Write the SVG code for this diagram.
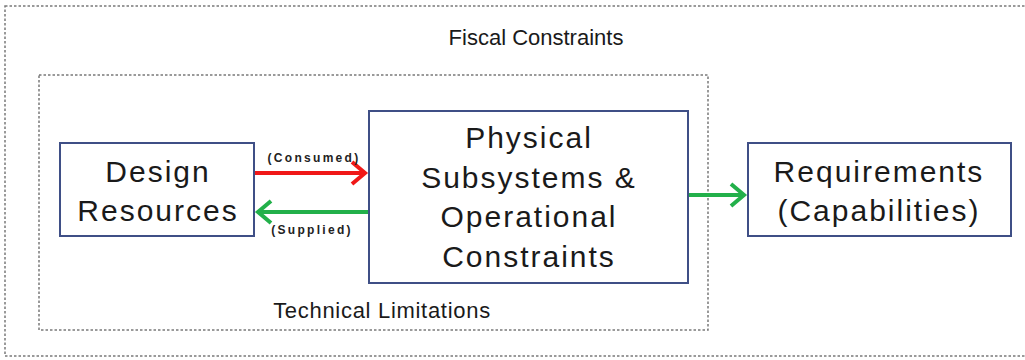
<svg xmlns="http://www.w3.org/2000/svg" width="1025" height="360" viewBox="0 0 1025 360">
<style>
.frame{fill:none;stroke:#7a7a7a;stroke-width:1.5;stroke-dasharray:2.5 2}
.box{fill:#fff;stroke:#3f4f86;stroke-width:2}
.big{font-family:"Liberation Sans",Arial,sans-serif;font-size:30px;letter-spacing:2px;fill:#1a1a1a;text-anchor:middle}
.lbl{font-family:"Liberation Sans",Arial,sans-serif;font-size:22px;fill:#1a1a1a;text-anchor:middle}
.sm{font-family:"Liberation Sans",Arial,sans-serif;font-size:12px;font-weight:bold;letter-spacing:2.3px;fill:#222;text-anchor:middle}
.red{stroke:#f01818;stroke-width:4;fill:none}
.grn{stroke:#22b04a;stroke-width:4;fill:none}
</style>
<rect width="1025" height="360" fill="#fff"/>
<g id="fiscal">
<rect class="frame" x="5" y="6" width="1030" height="350"/>
<text class="lbl" x="536" y="45">Fiscal Constraints</text>
</g>
<g id="technical">
<rect class="frame" x="39" y="75" width="669" height="255"/>
<text class="lbl" x="382" y="318" style="letter-spacing:0.7px">Technical Limitations</text>
</g>
<g id="design">
<rect class="box" x="60" y="143" width="194" height="93"/>
<text class="big" x="158" y="182">Design</text>
<text class="big" x="158" y="221">Resources</text>
</g>
<g id="physical">
<rect class="box" x="369" y="111" width="319" height="172"/>
<text class="big" x="529" y="148">Physical</text>
<text class="big" x="529" y="188">Subsystems &amp;</text>
<text class="big" x="529" y="227">Operational</text>
<text class="big" x="529" y="267">Constraints</text>
</g>
<g id="requirements">
<rect class="box" x="748" y="143" width="263" height="93"/>
<text class="big" x="879" y="182">Requirements</text>
<text class="big" x="879" y="221">(Capabilities)</text>
</g>
<g id="connectors">
<line class="red" x1="255" y1="173" x2="365" y2="173"/>
<polyline class="red" points="352,162 365,173 352,184"/>
<text class="sm" x="314" y="162">(Consumed)</text>
<line class="grn" x1="260" y1="212" x2="368" y2="212"/>
<polyline class="grn" points="271,201 258,212 271,223"/>
<text class="sm" x="312" y="234">(Supplied)</text>
<line class="grn" x1="689" y1="195" x2="744" y2="195"/>
<polyline class="grn" points="731,184 744,195 731,206"/>
</g>
</svg>
